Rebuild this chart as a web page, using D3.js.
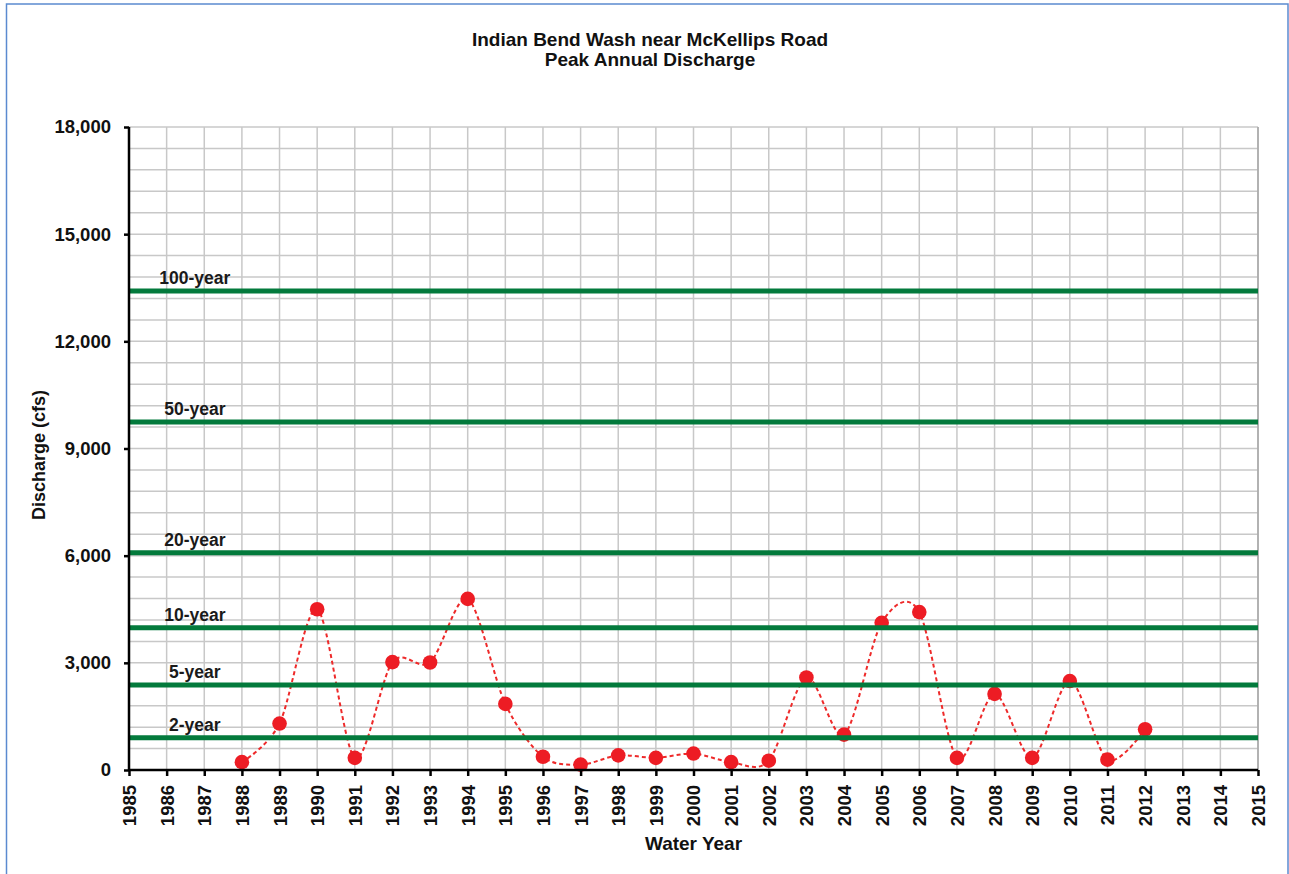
<!DOCTYPE html>
<html>
<head>
<meta charset="utf-8">
<script src="https://cdn.jsdelivr.net/npm/d3@7"></script>
<style>
    body { margin: 0; background: #fff; }
    svg { display: block; font-family: Arial, "Liberation Sans", sans-serif; }
</style>
</head>
<body>
<div id="app"></div>
<script>
// peak annual discharge (cfs)
const years = [1988, 1989, 1990, 1991, 1992, 1993, 1994, 1995, 1996, 1997, 1998, 1999, 2000,
    2001, 2002, 2003, 2004, 2005, 2006, 2007, 2008, 2009, 2010, 2011, 2012]
const peaks = [220, 1300, 4500, 340, 3020, 3010, 4790, 1850, 370, 150, 410, 340, 460,
    220, 260, 2590, 990, 4120, 4420, 340, 2130, 340, 2490, 290, 1140]

// return period flows
const returnLabels = ['2-year', '5-year', '10-year', '20-year', '50-year', '100-year']
const returnFlows = [900, 2380, 3980, 6080, 9740, 13410]

const yTicks = [0, 3000, 6000, 9000, 12000, 15000, 18000]
const xTicks = d3.range(1985, 2016)

const W = 1289, H = 874
const M = { left: 129, right: 1258, top: 127, bottom: 770 }

const svg = d3.select('#app').append('svg')
    .attr('width', W)
    .attr('height', H)

// chart frame (blue border, bottom edge is cut off in the original)
svg.append('rect')
    .attr('x', 6.5).attr('y', 4)
    .attr('width', 1281.5).attr('height', 900)
    .attr('fill', '#fff')
    .attr('stroke', '#5b8ad0')
    .attr('stroke-width', 1.5)

const x = d3.scaleLinear().domain([1985, 2015]).range([M.left, M.right])
const y = d3.scaleLinear().domain([0, 18000]).range([M.bottom, M.top])

// grid: one line per year, one per 600 cfs
const grid = svg.append('g').attr('class', 'grid')
    .attr('stroke', '#c8c8c8')
    .attr('stroke-width', 1.5)
grid.selectAll('line.v').data(xTicks.slice(1)).join('line')
    .attr('class', 'v')
    .attr('x1', d => x(d)).attr('x2', d => x(d))
    .attr('y1', M.top).attr('y2', M.bottom)
grid.selectAll('line.h').data(d3.range(600, 18001, 600)).join('line')
    .attr('class', 'h')
    .attr('x1', M.left).attr('x2', M.right)
    .attr('y1', d => y(d)).attr('y2', d => y(d))
// right edge of plot a bit darker
grid.append('line')
    .attr('x1', M.right).attr('x2', M.right)
    .attr('y1', M.top).attr('y2', M.bottom)
    .attr('stroke', '#a6a6a6')

// discharge series - excel style smoothed dashed line
const pts = years.map((yr, i) => [yr, peaks[i]])
const line = d3.line()
    .x(d => x(d[0]))
    .y(d => y(d[1]))
    .curve(d3.curveCardinal.tension(0.1))

svg.append('path')
    .datum(pts)
    .attr('fill', 'none')
    .attr('stroke', '#ee2a2a')
    .attr('stroke-width', 2)
    .attr('stroke-dasharray', '4,3')
    .attr('d', line)

svg.append('g').selectAll('circle').data(pts).join('circle')
    .attr('cx', d => x(d[0]))
    .attr('cy', d => y(d[1]))
    .attr('r', 7.3)
    .attr('fill', '#ed1c24')

// return period lines sit on top of the markers
const rp = svg.append('g').attr('class', 'return-periods')
rp.selectAll('line').data(returnFlows).join('line')
    .attr('x1', M.left).attr('x2', M.right)
    .attr('y1', d => y(d)).attr('y2', d => y(d))
    .attr('stroke', '#037a3c')
    .attr('stroke-width', 5)
rp.selectAll('text').data(returnLabels).join('text')
    .attr('x', x(1986.75))
    .attr('y', (d, i) => y(returnFlows[i]) - 7)
    .attr('text-anchor', 'middle')
    .attr('font-size', 17.5)
    .attr('font-weight', 'bold')
    .attr('fill', '#1a1a1a')
    .text(d => d)

// axes
const yAxis = svg.append('g')
    .attr('transform', `translate(${M.left},0)`)
    .call(d3.axisLeft(y).tickValues(yTicks).tickSize(5).tickPadding(13).tickFormat(d3.format(',')))
const xAxis = svg.append('g')
    .attr('transform', `translate(0,${M.bottom})`)
    .call(d3.axisBottom(x).tickValues(xTicks).tickSize(6).tickFormat(d3.format('d')))

for (const ax of [yAxis, xAxis]) {
    ax.select('.domain').attr('stroke', '#000').attr('stroke-width', 2.5)
    ax.selectAll('.tick line').attr('stroke', '#000').attr('stroke-width', 2.5)
    ax.selectAll('.tick text')
        .attr('fill', '#111')
        .attr('font-size', 18.5)
        .attr('font-weight', 'bold')
        .attr('font-family', 'Arial, "Liberation Sans", sans-serif')
}
// plain vertical domain, no end caps
yAxis.select('.domain').attr('d', `M0,${M.top}V${M.bottom}`)
xAxis.select('.domain').attr('d', `M${M.left},0H${M.right}`)

// rotate the year labels
xAxis.selectAll('.tick text')
    .attr('transform', 'rotate(-90)')
    .attr('text-anchor', 'end')
    .attr('x', -15)
    .attr('y', 0)
    .attr('dy', '0.35em')

// titles
const title = svg.append('text')
    .attr('x', 650)
    .attr('text-anchor', 'middle')
    .attr('font-size', 19)
    .attr('font-weight', 'bold')
    .attr('fill', '#111')
title.append('tspan').attr('x', 650).attr('y', 46).text('Indian Bend Wash near McKellips Road')
title.append('tspan').attr('x', 650).attr('y', 66).text('Peak Annual Discharge')

svg.append('text')
    .attr('x', (M.left + M.right) / 2)
    .attr('y', 850)
    .attr('text-anchor', 'middle')
    .attr('font-size', 19)
    .attr('font-weight', 'bold')
    .attr('fill', '#111')
    .text('Water Year')

svg.append('text')
    .attr('transform', 'translate(45,455) rotate(-90)')
    .attr('text-anchor', 'middle')
    .attr('font-size', 18)
    .attr('font-weight', 'bold')
    .attr('fill', '#111')
    .text('Discharge (cfs)')
</script>
</body>
</html>
